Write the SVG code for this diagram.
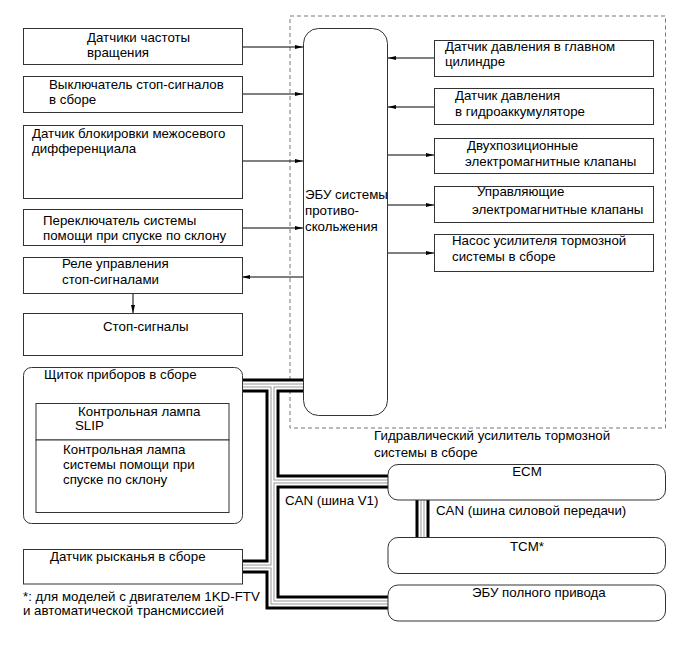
<svg xmlns="http://www.w3.org/2000/svg" width="691" height="660" viewBox="0 0 691 660">
<style>
text{font-family:"Liberation Sans",Arial,sans-serif;font-size:13.3px;fill:#000}
.box{fill:#fff;stroke:#333;stroke-width:1}
.frame{fill:none;stroke:#777;stroke-width:1;stroke-dasharray:4 3}
.ln{fill:none;stroke:#000;stroke-width:1}
.b1{fill:none;stroke:#000;stroke-width:14;stroke-linejoin:miter}
.b2{fill:none;stroke:#fff;stroke-width:8;stroke-linejoin:miter}
.b3{fill:none;stroke:#999;stroke-width:4;stroke-linejoin:miter}
.b4{fill:none;stroke:#fff;stroke-width:2;stroke-linejoin:miter}
</style>
<defs>
<marker id="ah" viewBox="0 0 8 4" refX="8" refY="2" markerWidth="8" markerHeight="4" markerUnits="userSpaceOnUse" orient="auto">
<path d="M0,0 L8,2 L0,4 z" fill="#000"/>
</marker>
<path id="bus" d="M242,385.5 H303 M272.5,385.5 V602.5 H388 M272.5,481.5 H388 M242,566.5 H272.5 M422.5,500 V537"/>
</defs>
<rect class="frame" x="290" y="16" width="375.5" height="412"/>
<g id="connectors">
<use href="#bus" class="b1"/>
<use href="#bus" class="b2"/>
<use href="#bus" class="b3"/>
<use href="#bus" class="b4"/>
<path class="ln" d="M242,47 H303" marker-end="url(#ah)"/>
<path class="ln" d="M242,94 H303" marker-end="url(#ah)"/>
<path class="ln" d="M242,161 H303" marker-end="url(#ah)"/>
<path class="ln" d="M242,228 H303" marker-end="url(#ah)"/>
<path class="ln" d="M303,277 H242" marker-end="url(#ah)"/>
<path class="ln" d="M133,293 V313" marker-end="url(#ah)"/>
<path class="ln" d="M434,58 H388" marker-end="url(#ah)"/>
<path class="ln" d="M434,107 H388" marker-end="url(#ah)"/>
<path class="ln" d="M388,155 H434" marker-end="url(#ah)"/>
<path class="ln" d="M388,205 H434" marker-end="url(#ah)"/>
<path class="ln" d="M388,253 H434" marker-end="url(#ah)"/>
</g>
<g id="speed-sensors"><rect class="box" x="23.5" y="28.5" width="219" height="36"/><text x="87" y="42">Датчики частоты</text><text x="87" y="57">вращения</text></g>
<g id="stop-switch"><rect class="box" x="23.5" y="76.5" width="219" height="36"/><text x="49" y="88.5">Выключатель стоп-сигналов</text><text x="49" y="103.5">в сборе</text></g>
<g id="diff-lock"><rect class="box" x="23.5" y="125.5" width="219" height="73"/><text x="32" y="138">Датчик блокировки межосевого</text><text x="32" y="153">дифференциала</text></g>
<g id="dac-switch"><rect class="box" x="23.5" y="209.5" width="219" height="36"/><text x="43" y="224.5">Переключатель системы</text><text x="43" y="239.5">помощи при спуске по склону</text></g>
<g id="stop-relay"><rect class="box" x="23.5" y="257.5" width="219" height="36"/><text x="62" y="268">Реле управления</text><text x="62" y="284">стоп-сигналами</text></g>
<g id="stop-lamps"><rect class="box" x="23.5" y="313.5" width="219" height="42"/><text x="103" y="331">Стоп-сигналы</text></g>
<g id="ecu"><rect class="box" x="303.5" y="28.5" width="84" height="387" rx="15"/><text x="305" y="198.5">ЭБУ системы</text><text x="305" y="215">противо-</text><text x="305" y="231">скольжения</text></g>
<g id="mc-sensor"><rect class="box" x="434.5" y="40.5" width="219" height="36"/><text x="445" y="50.5">Датчик давления в главном</text><text x="445" y="66">цилиндре</text></g>
<g id="acc-sensor"><rect class="box" x="434.5" y="88.5" width="219" height="36"/><text x="455" y="99.5">Датчик давления</text><text x="455" y="116">в гидроаккумуляторе</text></g>
<g id="two-pos-valves"><rect class="box" x="434.5" y="138.5" width="219" height="35"/><text x="467" y="149.5">Двухпозиционные</text><text x="465" y="165.5">электромагнитные клапаны</text></g>
<g id="ctrl-valves"><rect class="box" x="434.5" y="186.5" width="219" height="36"/><text x="477" y="195.5">Управляющие</text><text x="472" y="213.5">электромагнитные клапаны</text></g>
<g id="pump"><rect class="box" x="434.5" y="234.5" width="219" height="37"/><text x="452" y="245">Насос усилителя тормозной</text><text x="452" y="261">системы в сборе</text></g>
<g id="booster-label"><text x="374" y="439.5">Гидравлический усилитель тормозной</text><text x="374" y="456.5">системы в сборе</text></g>
<g id="instrument-panel"><rect class="box" x="23.5" y="367.5" width="219" height="156" rx="8"/><text x="44" y="379">Щиток приборов в сборе</text>
<rect class="box" x="36" y="403.5" width="193" height="36.5"/><text x="78" y="415.5">Контрольная лампа</text><text x="75" y="430">SLIP</text>
<rect class="box" x="36" y="440" width="193" height="72.5"/><text x="63" y="453.5">Контрольная лампа</text><text x="63" y="468.5">системы помощи при</text><text x="63" y="483.5">спуске по склону</text></g>
<g id="ecm"><rect class="box" x="388" y="464.5" width="277.5" height="35.5" rx="10"/><text x="527" y="475.5" text-anchor="middle">ECM</text></g>
<g id="tcm"><rect class="box" x="388" y="537.5" width="277.5" height="36" rx="10"/><text x="527" y="551" text-anchor="middle">TCM*</text></g>
<g id="awd-ecu"><rect class="box" x="388" y="585" width="277.5" height="36" rx="10"/><text x="472" y="596.5">ЭБУ полного привода</text></g>
<g id="yaw-sensor"><rect class="box" x="23.5" y="549.5" width="219" height="34.5"/><text x="50" y="560.5">Датчик рысканья в сборе</text></g>
<g id="bus-labels"><text x="285" y="505">CAN (шина V1)</text><text x="436" y="515">CAN (шина силовой передачи)</text></g>
<g id="footnote"><text x="23" y="601">*: для моделей с двигателем 1KD-FTV</text><text x="23" y="615">и автоматической трансмиссией</text></g>
</svg>
